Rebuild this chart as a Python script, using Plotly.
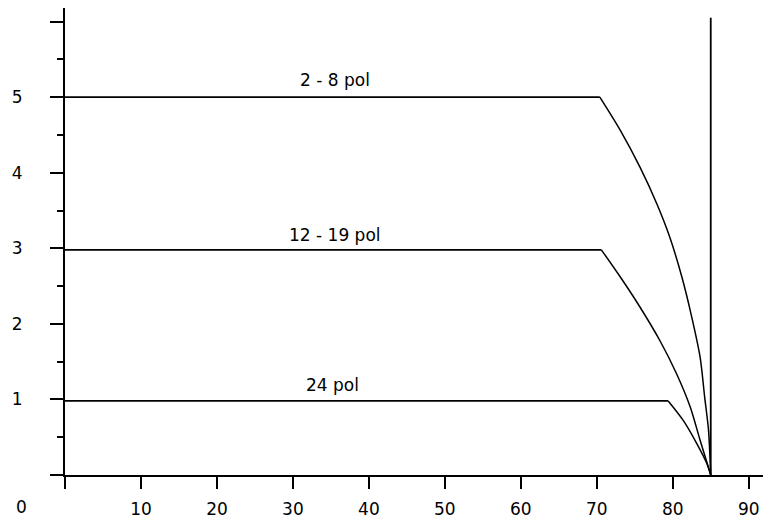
import plotly.graph_objects as go

# Curve "2 - 8 pol"
x_2_8 = [0, 70.4, 73.1, 75.7, 77.9, 79.6, 81.2, 82.5, 83.6, 84.2, 84.7, 85.0]
y_2_8 = [5.0, 5.0, 4.56, 4.07, 3.59, 3.15, 2.62, 2.09, 1.56, 1.03, 0.60, 0.0]

# Curve "12 - 19 pol"
x_12_19 = [0, 70.6, 73.1, 75.7, 78.3, 80.5, 82.3, 83.6, 85.0]
y_12_19 = [2.98, 2.98, 2.62, 2.22, 1.78, 1.34, 0.90, 0.46, 0.0]

# Curve "24 pol"
x_24 = [0, 79.4, 81.4, 83.2, 84.5, 85.0]
y_24 = [0.98, 0.98, 0.72, 0.41, 0.15, 0.0]

# Vertical limit line
x_limit = [85, 85]
y_limit = [0, 6.05]

curve_labels = ["2 - 8 pol", "12 - 19 pol", "24 pol"]
label_x = [35.5, 35.5, 35.2]
label_y = [5.23, 3.18, 1.19]

x_tickvals = [0, 10, 20, 30, 40, 50, 60, 70, 80, 90]
x_ticktext = ["", "10", "20", "30", "40", "50", "60", "70", "80", "90"]
y_tickvals = [0, 1, 2, 3, 4, 5, 6]
y_ticktext = ["", "1", "2", "3", "4", "5", ""]
origin_label = "0"

FONT = "DejaVu Sans, Liberation Sans, Arial, sans-serif"
FS = 17

fig = go.Figure()
for xs, ys in [(x_2_8, y_2_8), (x_12_19, y_12_19), (x_24, y_24)]:
    # flat plateau
    fig.add_trace(go.Scatter(x=xs[:2], y=ys[:2], mode="lines",
                             line=dict(color="black", width=1.7),
                             showlegend=False, hoverinfo="skip"))
    # falling curve
    fig.add_trace(go.Scatter(x=xs[1:], y=ys[1:], mode="lines",
                             line=dict(color="black", width=1.5, shape="spline", smoothing=0.8),
                             showlegend=False, hoverinfo="skip"))
fig.add_trace(go.Scatter(x=x_limit, y=y_limit, mode="lines",
                         line=dict(color="black", width=1.8),
                         showlegend=False, hoverinfo="skip"))

for t, lx, ly in zip(curve_labels, label_x, label_y):
    fig.add_annotation(x=lx, y=ly, text=t, showarrow=False,
                       font=dict(family=FONT, size=FS, color="black"),
                       xanchor="center", yanchor="middle")

# origin label (placed at the lower-left corner, outside the plot area)
fig.add_annotation(x=-0.061, y=-0.0685, xref="paper", yref="paper",
                   text=origin_label, showarrow=False,
                   font=dict(family=FONT, size=FS, color="black"),
                   xanchor="center", yanchor="middle")

fig.update_layout(
    width=763, height=512,
    margin=dict(l=57, r=1, t=0, b=45),
    paper_bgcolor="white", plot_bgcolor="white",
    font=dict(family=FONT, size=FS, color="black"),
    xaxis=dict(range=[0, 92.8], showgrid=False, zeroline=False, automargin=False,
               showline=True, linecolor="black", linewidth=1.8,
               ticks="outside", ticklen=12, tickwidth=1.5, tickcolor="black",
               tickvals=x_tickvals, ticktext=x_ticktext,
               ticklabelstandoff=6,
               tickfont=dict(family=FONT, size=FS, color="black")),
    yaxis=dict(range=[0, 6.18], showgrid=False, zeroline=False, automargin=False,
               showline=True, linecolor="black", linewidth=1.8,
               ticks="outside", ticklen=13, tickwidth=1.5, tickcolor="black",
               tickvals=y_tickvals, ticktext=y_ticktext,
               ticklabelstandoff=24,
               minor=dict(tickvals=[0.5, 1.5, 2.5, 3.5, 4.5, 5.5],
                          ticks="outside", ticklen=6, tickwidth=1.5, tickcolor="black"),
               tickfont=dict(family=FONT, size=FS, color="black")),
)

fig.write_html("out.html")
